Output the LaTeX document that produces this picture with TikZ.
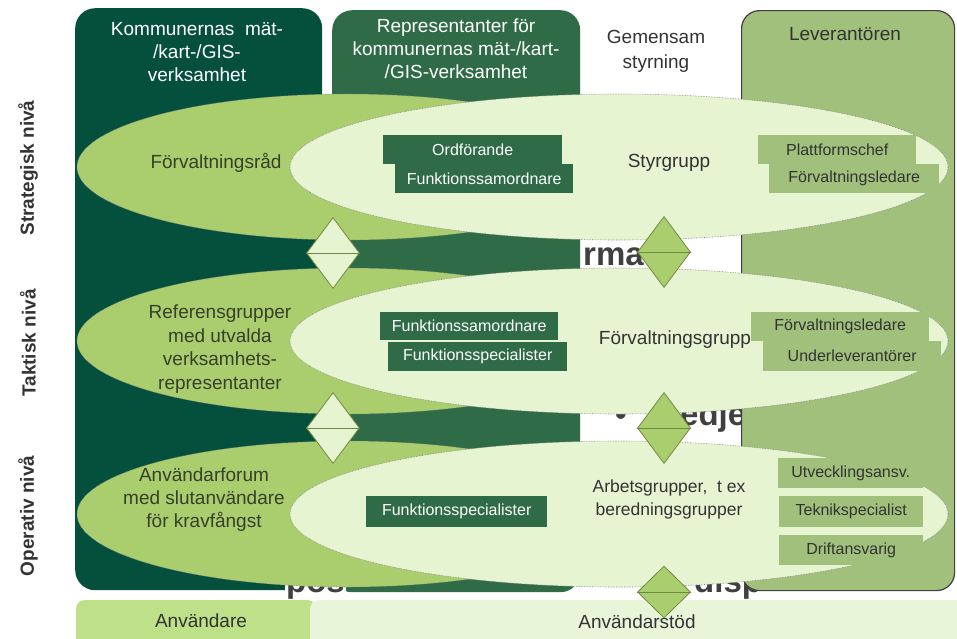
\documentclass[tikz,border=0pt]{standalone}
\usepackage{fontspec}
\setmainfont{Liberation Sans}
\usetikzlibrary{shapes.geometric}
\definecolor{kommun}{HTML}{05503C}
\definecolor{repr}{HTML}{2E6B46}
\definecolor{lev}{HTML}{A0C07C}
\definecolor{mellan}{HTML}{AACD6E}
\definecolor{ljus}{HTML}{E6F4D2}
\definecolor{anv}{HTML}{BEE088}
\definecolor{stod}{HTML}{E8F5D9}
\definecolor{kant}{HTML}{6E8B3D}
\definecolor{textgra}{HTML}{333333}
\definecolor{textgron}{HTML}{36402A}

\begin{document}
\begin{tikzpicture}
      [x=1pt,y=-1pt,
      every node/.style={align=center,inner sep=0pt,text=textgra,font=\fontsize{19}{23}\selectfont},
      column/.style={rounded corners=20pt,anchor=north west},
      outer/.style={ellipse,fill=mellan,draw=black!50,densely dotted,line width=0.6pt,minimum width=540pt,minimum height=146pt},
      inner/.style={ellipse,fill=ljus,draw=black!50,densely dotted,line width=0.6pt,minimum width=658pt,minimum height=146pt},
      kommbox/.style={fill=repr,text=white,anchor=north west,font=\fontsize{16}{19}\selectfont},
      levbox/.style={fill=lev,text=textgra,anchor=north west,font=\fontsize{16}{19}\selectfont},
      link/.style={diamond,draw=kant,line width=0.8pt,minimum width=53pt,minimum height=71pt},
      gap/.style={font=\fontsize{33}{33}\selectfont\bfseries,text=black!75}]
\useasboundingbox (0,0) rectangle (957,638);
\clip (0,0) rectangle (957,638);
\node[gap,anchor=base west] (frag1) at (583,265) {rma};
\node[gap,anchor=base west] (frag2) at (680,425) {edje};
\node[gap,anchor=base] (frag3) at (621,425) {•};
\node[gap,anchor=base west] (frag5) at (694,592) {disp};
\node[column,fill=kommun,minimum width=247pt,minimum height=582pt] (kommun) at (75,8) {};
\node[column,fill=repr,minimum width=248pt,minimum height=582pt] (repr) at (332,10) {};
\node[column,fill=lev,draw=black!75,line width=1.2pt,rounded corners=18pt,minimum width=213pt,minimum height=580pt] (lev) at (741,10) {};
\node[column,fill=anv,rounded corners=8pt,minimum width=240pt,minimum height=60pt] (anv) at (76,600) {};
\node[column,fill=stod,rounded corners=8pt,minimum width=660pt,minimum height=60pt] (stod) at (310,600) {};
\node[gap,fill=white,inner sep=1pt,anchor=base east] (frag4) at (346,592) {pos};
\foreach \y/\n in {167/1,341/2,514/3}{
  \node[outer] (yttre\n) at (347,\y) {};
  \node[inner] (inre\n) at (619,\y) {};
}
\node[kommbox,minimum width=179pt,minimum height=29pt] (ord) at (383,135) {Ordförande};
\node[kommbox,minimum width=178pt,minimum height=29pt] (samord1) at (395,164) {Funktionssamordnare};
\node[kommbox,minimum width=178pt,minimum height=28pt] (samord2) at (380,312) {Funktionssamordnare};
\node[kommbox,minimum width=179pt,minimum height=29pt] (spec1) at (388,342) {Funktionsspecialister};
\node[kommbox,minimum width=181pt,minimum height=31pt] (spec2) at (366,496) {Funktionsspecialister};
\node[levbox,minimum width=158pt,minimum height=29pt] (plattf) at (758,135) {Plattformschef};
\node[levbox,minimum width=170pt,minimum height=29pt] (ledare1) at (769,164) {Förvaltningsledare};
\node[levbox,minimum width=178pt,minimum height=29pt] (ledare2) at (751,312) {Förvaltningsledare};
\node[levbox,minimum width=178pt,minimum height=30pt] (underlev) at (763,341) {Underleverantörer};
\node[levbox,minimum width=145pt,minimum height=30pt] (utv) at (778,458) {Utvecklingsansv.};
\node[levbox,minimum width=144pt,minimum height=31pt] (teknik) at (779,496) {Teknikspecialist};
\node[levbox,minimum width=144pt,minimum height=30pt] (drift) at (779,535) {Driftansvarig};
\node[text=white] (kommtext) at (197,52) {Kommunernas\ \ mät-\\/kart-/GIS-\\verksamhet};
\node[text=white] (reprtext) at (456,49) {Representanter för\\kommunernas mät-/kart-\\/GIS-verksamhet};
\node[font=\fontsize{19}{25}\selectfont] (gemensam) at (656,51) {Gemensam\\styrning};
\node (levtext) at (845,34) {Leverantören};
\node[text=textgron] (forvrad) at (216,163) {Förvaltningsråd};
\node (styr) at (669,163) {Styrgrupp};
\node[text=textgron,font=\fontsize{19}{23.5}\selectfont] (ref) at (220,349) {Referensgrupper\\med utvalda\\verksamhets-\\representanter};
\node (forvgrp) at (675,340) {Förvaltningsgrupp};
\node[text=textgron] (forum) at (204,500) {Användarforum\\med slutanvändare\\för kravfångst};
\node[font=\fontsize{17.5}{23}\selectfont] (arb) at (669,499) {Arbetsgrupper,\ \ t ex\\beredningsgrupper};
\node (anvtext) at (201,621) {Användare};
\node (stodtext) at (637,622) {Användarstöd};
\node[rotate=90,font=\fontsize{19}{23}\selectfont\bfseries] (strat) at (28,168) {Strategisk nivå};
\node[rotate=90,font=\fontsize{19}{23}\selectfont\bfseries] (takt) at (28,343) {Taktisk nivå};
\node[rotate=90,font=\fontsize{19}{23}\selectfont\bfseries] (oper) at (28,516) {Operativ nivå};
\node[link,fill=ljus] (vanster1) at (333,253) {};
\node[link,fill=mellan] (hoger1) at (664,252) {};
\node[link,fill=ljus] (vanster2) at (333,428) {};
\node[link,fill=mellan] (hoger2) at (664,428) {};
\node[link,fill=mellan,minimum height=52pt] (hoger3) at (664,592) {};
\foreach \d in {vanster1,hoger1,vanster2,hoger2,hoger3}
  \draw[kant,line width=0.8pt] (\d.west) -- (\d.east);
\end{tikzpicture}
\end{document}
